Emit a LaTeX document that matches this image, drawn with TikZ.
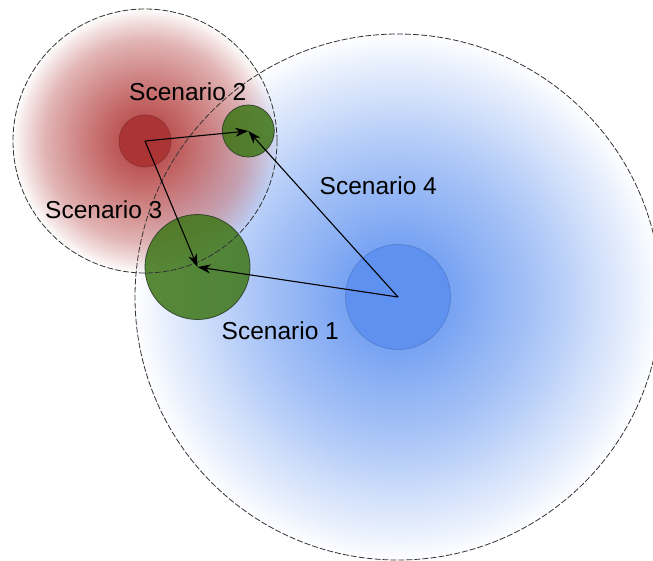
\documentclass[tikz,border=0pt]{standalone}
\usepackage{fontspec}
\setmainfont{Liberation Sans}
\usetikzlibrary{arrows.meta,fadings}

% radial opacity masks (white = opaque, black = transparent)
\pgfdeclareradialshading{bluemaskshade}{\pgfpointorigin}{%
  color(0bp)=(white); color(5bp)=(white!86!black); color(14bp)=(white!52!black);
  color(23bp)=(white!11!black); color(25bp)=(black); color(50bp)=(black)}
\pgfdeclarefading{bluemask}{\pgfuseshading{bluemaskshade}}
\pgfdeclareradialshading{redmaskshade}{\pgfpointorigin}{%
  color(0bp)=(white); color(7bp)=(white!80!black); color(13bp)=(white!60!black);
  color(19bp)=(white!38!black); color(23bp)=(white!14!black); color(25bp)=(black);
  color(50bp)=(black)}
\pgfdeclarefading{redmask}{\pgfuseshading{redmaskshade}}

\definecolor{zoneblue}{RGB}{98,148,240}
\definecolor{zonered}{RGB}{178,58,58}
\definecolor{coreblue}{RGB}{95,145,240}
\definecolor{coreblueline}{RGB}{78,118,200}
\definecolor{corered}{RGB}{170,50,50}
\definecolor{coreredline}{RGB}{125,40,40}
\definecolor{goalgreen}{RGB}{62,118,22}
\definecolor{goalgreenline}{RGB}{45,62,38}

\tikzset{
  zoneline/.style={draw=black!80, line width=0.8pt, dash pattern=on 6pt off 2pt},
  core/.style={circle, inner sep=0pt, line width=0.8pt},
  goal/.style={circle, inner sep=0pt, fill=goalgreen, fill opacity=0.85,
    draw=goalgreenline, draw opacity=0.9, line width=0.8pt},
  move/.style={draw=black, line width=1.1pt,
    -{Stealth[length=13pt, width=9pt, inset=4pt]}},
  tag/.style={font=\fontsize{24.5pt}{26pt}\selectfont, inner sep=0pt, anchor=base west}
}

\begin{document}
\begin{tikzpicture}[x=1pt, y=-1pt]
  \useasboundingbox (0,0) rectangle (653,560);

  % soft zones
  \fill[zoneblue, path fading=bluemask] (398,297) circle (263);
  \fill[zonered, path fading=redmask] (145,141) circle (132);

  % cores of the two zones
  \node[core, minimum size=105pt, fill=coreblue, draw=coreblueline, draw opacity=0.7] (blue) at (398,297) {};
  \node[core, minimum size=52pt, fill=corered, fill opacity=0.9, draw=coreredline, draw opacity=0.6] (red) at (145,141) {};

  % target positions
  \node[goal, minimum size=105pt] (gbig) at (197.5,267) {};
  \node[goal, minimum size=52pt] (gsmall) at (248.3,131) {};

  % zone outlines
  \node[circle, minimum size=526pt, inner sep=0pt, zoneline] (bluezone) at (398,297) {};
  \node[circle, minimum size=264pt, inner sep=0pt, zoneline] (redzone) at (145,141) {};

  % moves
  \draw[move] (red.center) -- (gsmall.center);
  \draw[move] (red.center) -- (gbig.center);
  \draw[move] (blue.center) -- (gsmall.center);
  \draw[move] (blue.center) -- (gbig.center);

  % labels
  \node[tag] (s1) at (221.5,339.3) {Scenario 1};
  \node[tag] (s2) at (129,100.7) {Scenario 2};
  \node[tag] (s3) at (45,218) {Scenario 3};
  \node[tag] (s4) at (319.5,194.6) {Scenario 4};
\end{tikzpicture}
\end{document}
